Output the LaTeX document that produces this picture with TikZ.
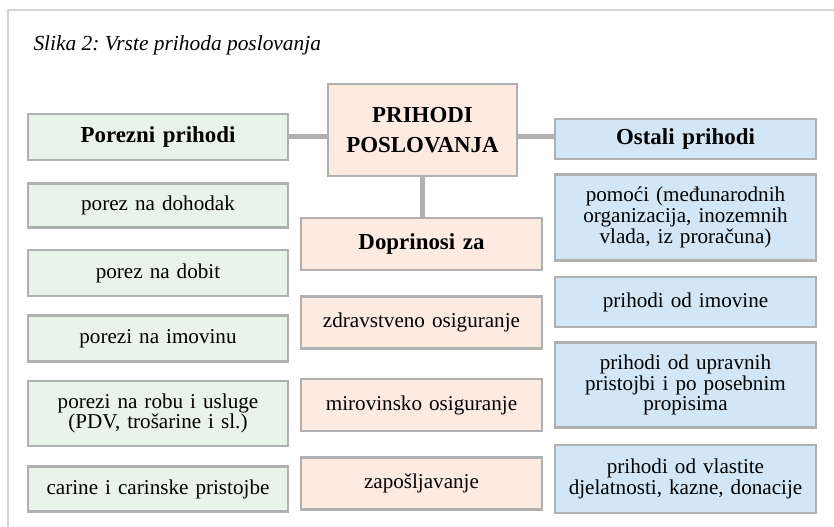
\documentclass[tikz,border=0pt]{standalone}
\usepackage{fontspec}
\setmainfont{Liberation Serif}
\usetikzlibrary{positioning}
\frenchspacing

\definecolor{rub}{RGB}{176,176,176}
\definecolor{okvirsiva}{RGB}{212,212,212}
\definecolor{zelena}{RGB}{232,243,234}
\definecolor{breskva}{RGB}{253,235,226}
\definecolor{plava}{RGB}{211,230,246}

\newcommand\tekst{\fontsize{21.2}{20.9}\selectfont}
\newcommand\naslovni{\fontsize{23}{30}\selectfont\bfseries}

\begin{document}
\begin{tikzpicture}[x=1bp, y=-1bp,
    kutija/.style = {draw=rub, line width=2.5bp, inner sep=0pt, align=center, font=\tekst},
    porez/.style = {kutija, fill=zelena, minimum width=260bp, text width=256bp},
    doprinos/.style = {kutija, fill=breskva, minimum width=241bp, text width=238bp, minimum height=52bp},
    ostali/.style = {kutija, fill=plava, minimum width=261bp, text width=258bp},
    veza/.style = {draw=rub, line width=5bp}
  ]
    \useasboundingbox (0,0) rectangle (834,527);
    \draw[okvirsiva, line width=1.5bp] (8,527) -- (8,10) -- (834,10);
    \node[anchor=west, font=\fontsize{21.5}{24}\selectfont\itshape] (naslov) at (30,45) {Slika 2: Vrste prihoda poslovanja};

    % sredina
    \node[kutija, fill=breskva, minimum width=189bp, minimum height=92bp, font=\naslovni] (glavni) at (422.5,130) {PRIHODI\\POSLOVANJA};

    % porezni prihodi
    \node[porez, minimum height=46bp, font=\naslovni] (p0) at (158,137) {Porezni prihodi};
    \node[porez, minimum height=44bp, below=21bp of p0] (p1) {porez na dohodak};
    \node[porez, minimum height=46bp, below=20bp of p1] (p2) {porez na dobit};
    \node[porez, minimum height=46bp, below=17bp of p2] (p3) {porezi na imovinu};
    \node[porez, minimum height=65bp, below=17bp of p3] (p4) {porezi na robu i usluge\\(PDV, trošarine i sl.)};
    \node[porez, minimum height=45bp, below=18bp of p4] (p5) {carine i carinske pristojbe};

    % doprinosi
    \node[doprinos, font=\naslovni] (d0) at (421.5,244) {Doprinosi za};
    \node[doprinos, below=24bp of d0] (d1) {zdravstveno osiguranje};
    \node[doprinos, below=28bp of d1] (d2) {mirovinsko osiguranje};
    \node[doprinos, below=24bp of d2] (d3) {zapošljavanje};

    % ostali prihodi
    \node[ostali, minimum height=40bp, font=\naslovni] (o0) at (685.5,139) {Ostali prihodi};
    \node[ostali, minimum height=86bp, below=13bp of o0] (o1) {pomoći (međunarodnih\\organizacija, inozemnih\\vlada, iz proračuna)};
    \node[ostali, minimum height=50bp, below=14bp of o1] (o2) {prihodi od imovine};
    \node[ostali, minimum height=85bp, below=13bp of o2] (o3) {prihodi od upravnih\\pristojbi i po posebnim\\propisima};
    \node[ostali, minimum height=68bp, below=15bp of o3] (o4) {prihodi od vlastite\\djelatnosti, kazne, donacije};

    \draw[veza] (p0.east) -- (p0 -| glavni.west);
    \draw[veza] (glavni.east |- p0) -- (o0.west |- p0);
    \draw[veza] (glavni.south) -- (glavni.south |- d0.north);
  \end{tikzpicture}
\end{document}
